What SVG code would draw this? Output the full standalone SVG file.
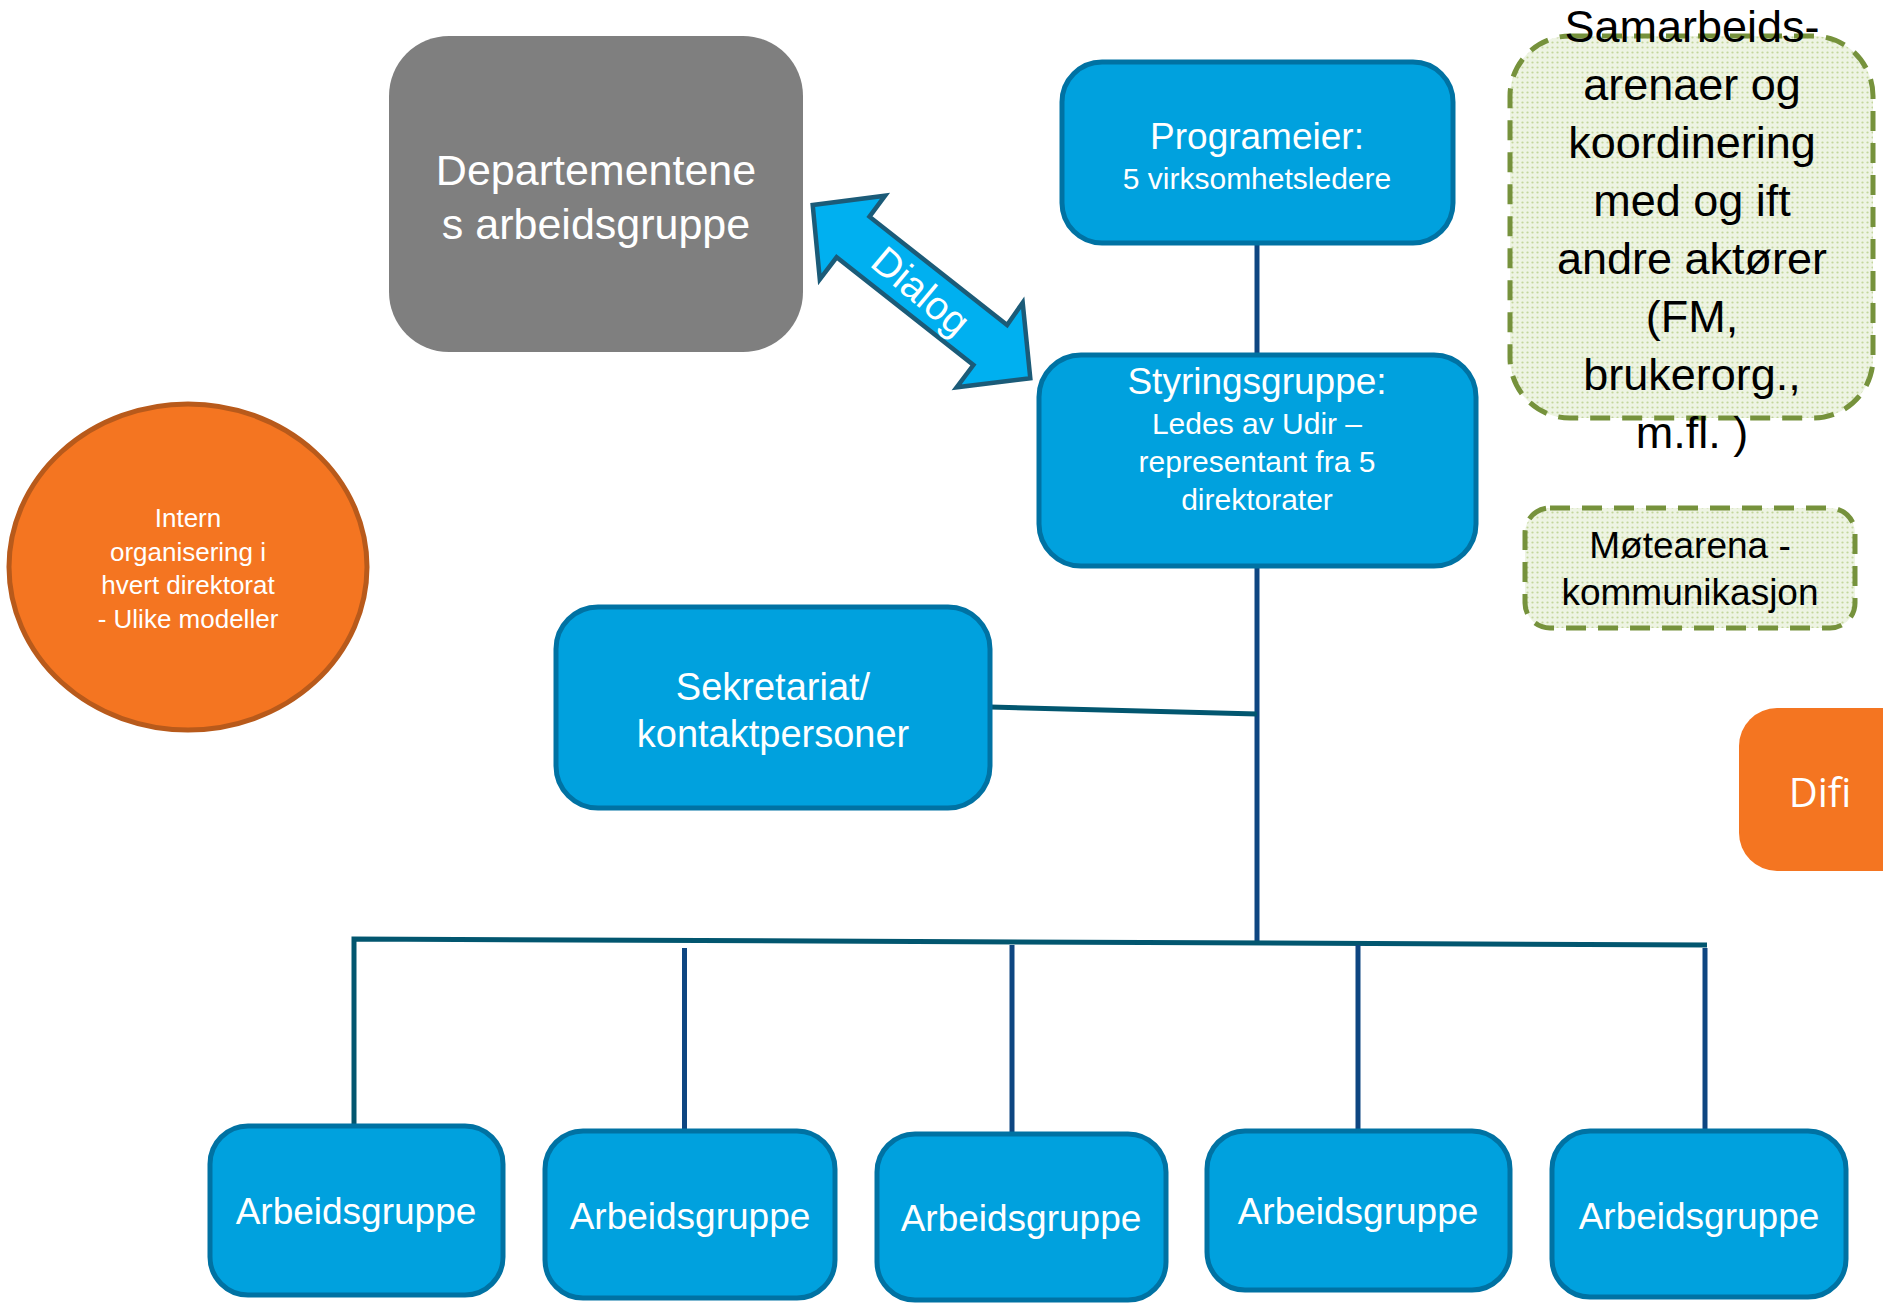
<svg xmlns="http://www.w3.org/2000/svg" width="1883" height="1304" viewBox="0 0 1883 1304">
<style>
.box{fill:#00A1DE;stroke:#0072A3;stroke-width:5}
.t{font-family:"Liberation Sans",Arial,sans-serif;text-anchor:middle}
.w{fill:#ffffff}
.k{fill:#000000}
.ln{fill:none;stroke:#0E4681;stroke-width:5}
.ln2{fill:none;stroke:#02566F;stroke-width:5}
.dash{fill:url(#dots);stroke:#76923C;stroke-width:5;stroke-dasharray:20 12}
</style>
<defs>
<pattern id="dots" width="5" height="5" patternUnits="userSpaceOnUse"><rect width="5" height="5" fill="#EEF4E3"/><circle cx="2.5" cy="2.5" r="1.1" fill="#C3D69B"/></pattern>
</defs>
<rect width="1883" height="1304" fill="#ffffff"/>

<g id="connectors">
<line class="ln" x1="1257" y1="242" x2="1257" y2="356"/>
<line class="ln" x1="1257" y1="566" x2="1257" y2="942"/>
<line class="ln2" x1="990" y1="707" x2="1257" y2="714"/>
<polyline class="ln2" points="354,1124 354,939 1707,945"/>
<line class="ln" x1="684.5" y1="948" x2="684.5" y2="1130"/>
<line class="ln" x1="1012" y1="945" x2="1012" y2="1134"/>
<line class="ln" x1="1358" y1="945" x2="1358" y2="1131"/>
<line class="ln" x1="1705" y1="948" x2="1705" y2="1130"/>
</g>

<g id="dialog-arrow">
<polygon points="812.7,205 885.1,195.7 869.5,216.7 1007.1,325 1022.7,302.7 1030.3,378.3 956.6,387.3 973.4,365 836.6,257.3 819.8,279.3" fill="#00B0F0" stroke="#1B5B78" stroke-width="4.5" stroke-linejoin="miter"/>
<text class="t w" x="0" y="14" font-size="40" transform="translate(921,291) rotate(40)">Dialog</text>
</g>

<g id="departementene">
<rect x="389" y="36" width="414" height="316" rx="60" fill="#7F7F7F"/>
<text class="t w" x="596" y="185" font-size="43">Departementene</text>
<text class="t w" x="596" y="239" font-size="43">s arbeidsgruppe</text>
</g>

<g id="programeier">
<rect class="box" x="1062" y="62" width="391" height="181" rx="40"/>
<text class="t w" x="1257" y="149" font-size="37">Programeier:</text>
<text class="t w" x="1257" y="189" font-size="30">5 virksomhetsledere</text>
</g>

<g id="styringsgruppe">
<rect class="box" x="1039" y="355" width="437" height="211" rx="42"/>
<text class="t w" x="1257" y="394" font-size="37">Styringsgruppe:</text>
<text class="t w" x="1257" y="434" font-size="30">Ledes av Udir –</text>
<text class="t w" x="1257" y="472" font-size="30">representant fra 5</text>
<text class="t w" x="1257" y="510" font-size="30">direktorater</text>
</g>

<g id="sekretariat">
<rect class="box" x="556" y="607" width="434" height="201" rx="42"/>
<text class="t w" x="773" y="700" font-size="38">Sekretariat/</text>
<text class="t w" x="773" y="747" font-size="38">kontaktpersoner</text>
</g>

<g id="intern">
<ellipse cx="188" cy="567" rx="179" ry="163" fill="#F47521" stroke="#B85A1B" stroke-width="5"/>
<text class="t w" x="188" y="527" font-size="26">Intern</text>
<text class="t w" x="188" y="561" font-size="26">organisering i</text>
<text class="t w" x="188" y="594" font-size="26">hvert direktorat</text>
<text class="t w" x="188" y="628" font-size="26">- Ulike modeller</text>
</g>

<g id="samarbeid">
<rect class="dash" x="1510" y="36" width="363" height="382" rx="60"/>
<text class="t k" font-size="45"><tspan x="1692" y="42">Samarbeids-</tspan><tspan x="1692" y="100">arenaer og</tspan><tspan x="1692" y="158">koordinering</tspan><tspan x="1692" y="216">med og ift</tspan><tspan x="1692" y="274">andre aktører</tspan><tspan x="1692" y="332">(FM,</tspan><tspan x="1692" y="390">brukerorg.,</tspan><tspan x="1692" y="448">m.fl. )</tspan></text>
</g>

<g id="motearena">
<rect class="dash" x="1525" y="508" width="330" height="120" rx="25"/>
<text class="t k" x="1690" y="558" font-size="37">Møtearena -</text>
<text class="t k" x="1690" y="605" font-size="37">kommunikasjon</text>
</g>

<g id="difi">
<rect x="1739" y="708" width="200" height="163" rx="38" fill="#F47521"/>
<text x="1820" y="807" font-size="40" fill="#ffffff" text-anchor="middle" font-family="'Open Sans','Noto Sans',sans-serif">Difi</text>
</g>

<g id="arbeidsgruppe-1">
<rect class="box" x="210" y="1126" width="293" height="169" rx="38"/>
<text class="t w" x="356" y="1224" font-size="37">Arbeidsgruppe</text>
</g>
<g id="arbeidsgruppe-2">
<rect class="box" x="545" y="1131" width="290" height="167" rx="38"/>
<text class="t w" x="690" y="1229" font-size="37">Arbeidsgruppe</text>
</g>
<g id="arbeidsgruppe-3">
<rect class="box" x="877" y="1134" width="289" height="166" rx="38"/>
<text class="t w" x="1021" y="1231" font-size="37">Arbeidsgruppe</text>
</g>
<g id="arbeidsgruppe-4">
<rect class="box" x="1207" y="1131" width="303" height="159" rx="38"/>
<text class="t w" x="1358" y="1224" font-size="37">Arbeidsgruppe</text>
</g>
<g id="arbeidsgruppe-5">
<rect class="box" x="1552" y="1131" width="294" height="166" rx="38"/>
<text class="t w" x="1699" y="1229" font-size="37">Arbeidsgruppe</text>
</g>
</svg>
